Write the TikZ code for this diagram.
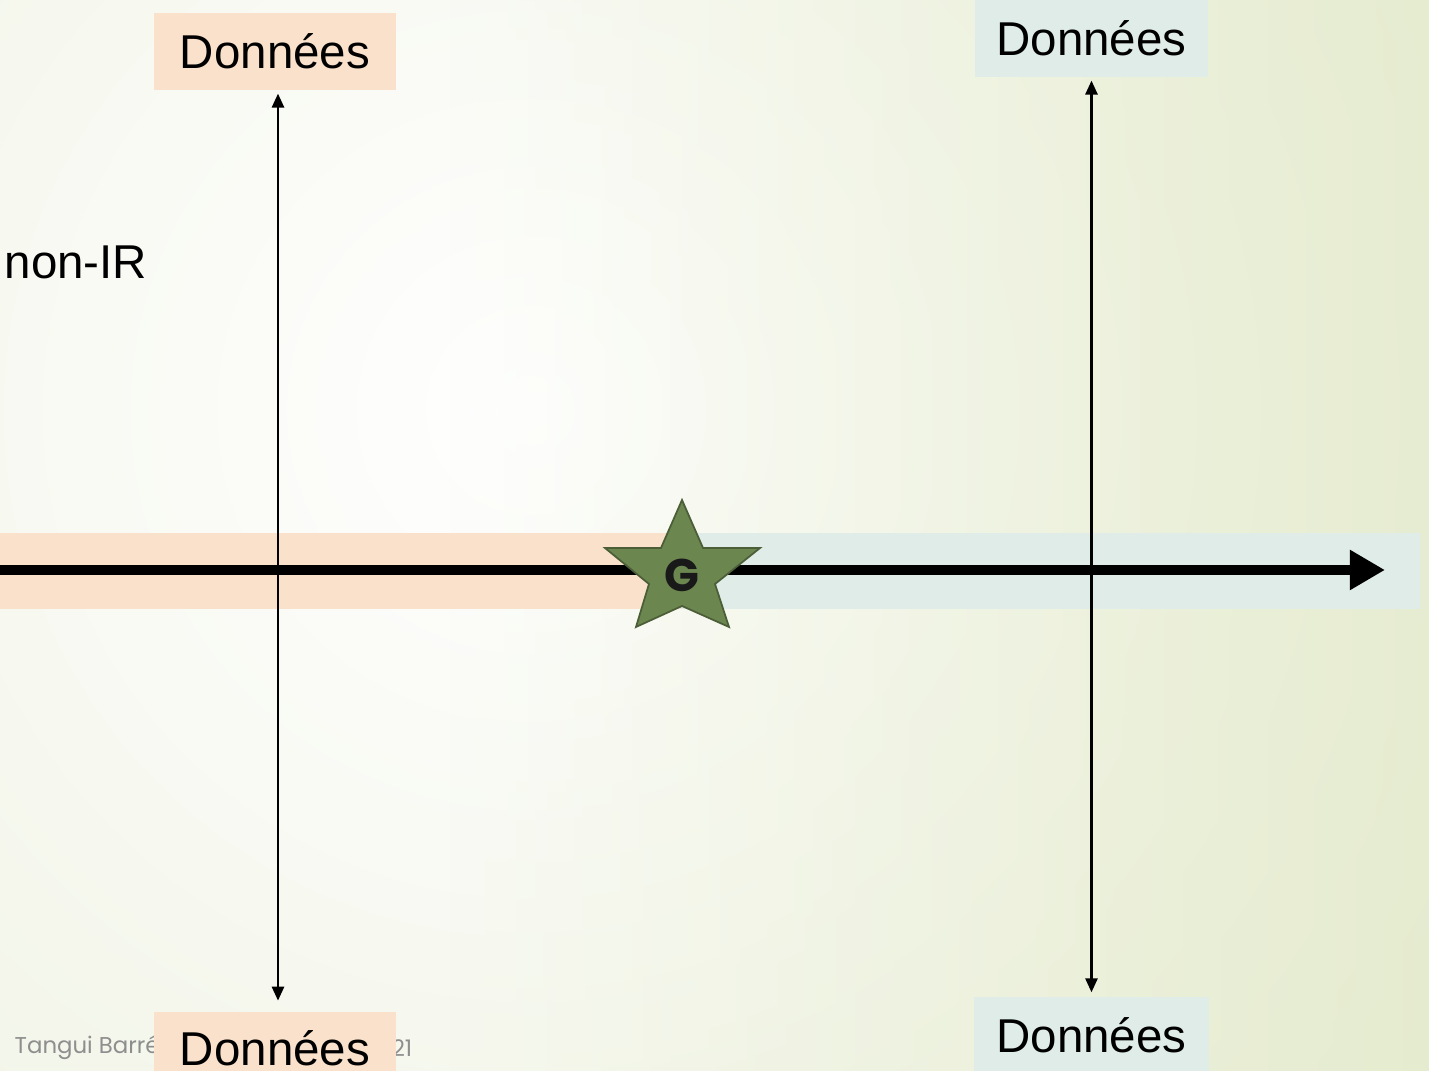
\documentclass[tikz,border=0pt]{standalone}
\usepackage{fontspec}
\setmainfont{Liberation Sans}
\newfontfamily\footfont{Poppins}
\usetikzlibrary{arrows.meta,fadings}
\definecolor{bgouter}{HTML}{E8EDD6}
\definecolor{bgright}{HTML}{DFE7C2}
\definecolor{peach}{HTML}{F9E1CC}
\definecolor{paleblue}{HTML}{DFECE7}
\definecolor{stargreen}{HTML}{6C8650}
\definecolor{stardark}{HTML}{4B5E38}
\definecolor{footgray}{HTML}{8E8E8E}
\tikzset{
  lbl/.style={font=\fontsize{13.5}{16}\selectfont, text=black, inner sep=0pt},
  databox/.style={lbl, minimum height=0.77cm},
  vline/.style={line width=0.8pt, {Triangle[length=4pt,width=3.4pt]}-{Triangle[length=4pt,width=3.4pt]}},
  axis/.style={line width=2.85pt, -{Triangle[length=10pt,width=10.8pt]}},
  footer/.style={font=\footfont\fontsize{6.5}{8}\selectfont, text=footgray, inner sep=0pt},
}
\begin{document}
\begin{tikzpicture}[x=0.01cm,y=-0.01cm]
\useasboundingbox (0,0) rectangle (1429,1071);
\clip (0,0) rectangle (1429,1071);
% background
\fill[bgouter] (0,0) rectangle (1429,1071);
\shade[inner color=white, outer color=bgouter] (530,410) circle (1600);
\fill[bgright, path fading=west, fill opacity=0.6] (450,0) rectangle (1429,1071);
% footer
\node[footer, anchor=west] (foot) at (14,1048) {Tangui Barré};
\node[footer, anchor=east] (page) at (413,1048) {21};
% bands
\fill[peach] (0,533) rectangle (681,609);
\fill[paleblue] (681,533) rectangle (1420,609);
% label boxes
\node[databox, fill=peach, minimum width=2.42cm] (tl) at (275,51.5) {Données};
\node[databox, fill=paleblue, minimum width=2.33cm] (tr) at (1091.5,38.5) {Données};
\node[databox, fill=peach, minimum width=2.42cm] (bl) at (275,1050.5) {\raisebox{1.2pt}{Données}};
\node[databox, fill=paleblue, minimum width=2.35cm] (br) at (1091.5,1035.5) {Données};
% side text
\node[lbl, anchor=west] (nonir) at (4,262) {non-IR};
% vertical double arrows
\draw[vline, shorten <=3pt, shorten >=0.8pt] ([xshift=0.03cm]bl.north) -- ([xshift=0.03cm]tl.south);
\draw[vline, shorten <=1.1pt, shorten >=0.8pt] (br.north) -- (tr.south);
% horizontal axis
\coordinate (hstart) at (0,570);
\coordinate (hend) at (1385,570);
\draw[axis] (hstart) -- (hend);
% star
\fill[stargreen, draw=stardark, line width=0.5pt, line join=miter]
  (682,500) -- (703,548) -- (760,548) -- (715,584) -- (729,627) -- (682,606)
  -- (636,627) -- (649,584) -- (605,548) -- (661,548) -- cycle;
\node[font=\footfont\bfseries\fontsize{13}{15}\selectfont, text=black!90, inner sep=0pt] (g) at (682,575) {G};
\end{tikzpicture}
\end{document}
